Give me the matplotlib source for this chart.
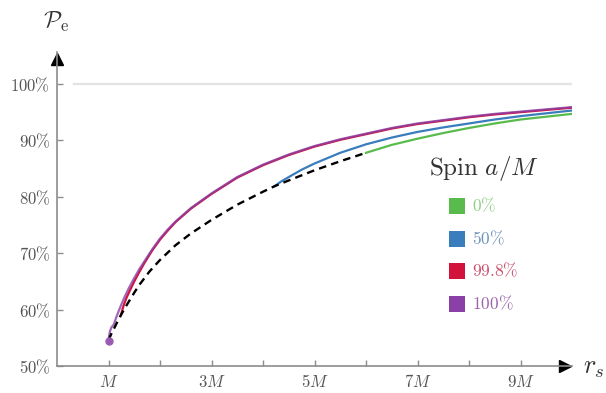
import matplotlib
matplotlib.use("Agg")
import matplotlib.pyplot as plt
from matplotlib.patches import Rectangle

plt.rcParams['mathtext.fontset'] = 'cm'
plt.rcParams['font.family'] = ['DejaVu Serif']

# efficiency along the ISCO (dashed) and for each spin value
r_isco = [1.0, 1.05, 1.1, 1.17, 1.24, 1.32, 1.4, 1.5, 1.6, 1.8, 2.0, 2.3, 2.6, 3.0, 3.5, 4.0, 4.23,
          4.5, 5.0, 5.5, 6.0]
p_isco = [54.6, 55.6, 56.5, 57.8, 59.0, 60.3, 61.5, 63.0, 64.4, 66.8, 68.8, 71.4, 73.5, 75.9, 78.6,
          80.9, 81.9, 82.9, 84.7, 86.3, 87.8]

r_a0 = [6.0, 6.25, 6.5, 7.0, 7.5, 8.0, 8.5, 9.0, 9.5, 10.0]
p_a0 = [87.8, 88.5, 89.2, 90.3, 91.3, 92.2, 93.0, 93.7, 94.2, 94.7]

r_a50 = [4.23, 4.35, 4.5, 4.75, 5.0, 5.5, 6.0, 6.5, 7.0, 7.5, 8.0, 8.5, 9.0, 9.5, 10.0]
p_a50 = [81.9, 82.7, 83.5, 84.8, 85.9, 87.8, 89.3, 90.5, 91.5, 92.3, 93.0, 93.7, 94.3, 94.8, 95.3]

r_a998 = [1.24, 1.27, 1.3, 1.35, 1.4, 1.5, 1.6, 1.7, 1.85, 2.0, 2.15, 2.3, 2.6, 3.0, 3.5, 4.0, 4.5,
          5.0, 5.5, 6.0, 6.5, 7.0, 7.5, 8.0, 8.5, 9.0, 9.5, 10.0]
p_a998 = [59.0, 60.0, 60.9, 62.1, 63.1, 65.0, 66.7, 68.3, 70.5, 72.4, 74.0, 75.5, 77.9, 80.5, 83.4,
          85.6, 87.4, 88.9, 90.1, 91.1, 92.1, 92.9, 93.5, 94.1, 94.6, 95.0, 95.4, 95.8]

r_a100 = [1.0, 1.01, 1.03, 1.06, 1.1, 1.15, 1.2, 1.3, 1.4, 1.5, 1.6, 1.7, 1.85, 2.0, 2.15, 2.3, 2.6,
          3.0, 3.5, 4.0, 4.5, 5.0, 5.5, 6.0, 6.5, 7.0, 7.5, 8.0, 8.5, 9.0, 9.5, 10.0]
p_a100 = [54.5, 55.3, 56.2, 56.9, 57.3, 58.6, 59.8, 62.0, 63.9, 65.6, 67.2, 68.6, 70.7, 72.6,
          74.2, 75.6, 78.0, 80.6, 83.5, 85.7, 87.5, 89.0, 90.2, 91.2, 92.2, 93.0, 93.6, 94.2, 94.7,
          95.1, 95.5, 95.9]

spin_labels = ['0%', '50%', '99.8%', '100%']
spin_colors = ['#58bb4c', '#3a7dbd', '#d3123c', '#8a40a6']
label_colors = ['#8fcf86', '#6c93bb', '#c8506e', '#9a62ac']

y_ticks = [50, 60, 70, 80, 90, 100]
x_ticks = [1, 3, 5, 7, 9]
x_tick_labels = ['$M$', '$3M$', '$5M$', '$7M$', '$9M$']
x_minor = [2, 4, 6, 8]

fig = plt.figure(figsize=(6.06, 3.93), dpi=100)
ax = fig.add_axes([57 / 606, 27 / 393, 515 / 606, 314 / 393])
ax.set_xlim(0, 10)
ax.set_ylim(50, 105.67)

axis_gray = '#8c8c8c'
for side in ['top', 'right']:
    ax.spines[side].set_visible(False)
for side in ['left', 'bottom']:
    ax.spines[side].set_color(axis_gray)
    ax.spines[side].set_linewidth(1.2)

# arrow heads on the axes
ax.plot(0.986, 0, marker='>', ms=9, color='black', transform=ax.transAxes, clip_on=False)
ax.plot(0, 0.978, marker='^', ms=9, color='black', transform=ax.transAxes, clip_on=False)

# 100% reference line
ax.plot([0.33, 10], [100, 100], color='#e3e3e3', lw=1.6)

lw = 1.6
ax.plot(r_a0, p_a0, color=spin_colors[0], lw=lw)
ax.plot(r_a50, p_a50, color=spin_colors[1], lw=lw)
ax.plot(r_a998, p_a998, color=spin_colors[2], lw=lw)
ax.plot(r_a100, p_a100, color=spin_colors[3], lw=lw, alpha=0.8)
ax.plot(r_isco, p_isco, color='black', lw=1.7, dashes=(3.2, 2.2))
ax.plot(r_a100[0], p_a100[0], 'o', ms=5, color='#9a5ab0', zorder=5)

ax.set_yticks(y_ticks)
ax.set_yticklabels([r'$\mathrm{%d\%%}$' % v for v in y_ticks])
ax.set_xticks(x_ticks)
ax.set_xticklabels(x_tick_labels)
ax.set_xticks(x_minor, minor=True)
ax.tick_params(which='both', direction='in', length=4, width=1, color=axis_gray,
               labelsize=12, labelcolor='#555555')
ax.tick_params(axis='y', pad=5)
ax.tick_params(axis='x', pad=6)

fig.text(56 / 606, 1 - 22 / 393, r'$\mathcal{P}_\mathrm{e}$', fontsize=17,
         ha='center', va='center', color='#333333')
fig.text(594 / 606, 1 - 368 / 393, r'$r_s$', fontsize=19,
         ha='center', va='center', color='#333333')

# spin legend
fig.text(484 / 606, 1 - 168 / 393, r'$\mathrm{Spin}\ a/M$', fontsize=18,
         ha='center', va='center', color='#333333')
sq = 16
for i, (lab, c, tc) in enumerate(zip(spin_labels, spin_colors, label_colors)):
    top = 198 + i * 32.7
    fig.add_artist(Rectangle((449 / 606, 1 - (top + sq) / 393), sq / 606, sq / 393,
                             transform=fig.transFigure, facecolor=c, edgecolor='none'))
    fig.text(472 / 606, 1 - (top + sq / 2) / 393, r'$\mathrm{%s}$' % lab.replace('%', r'\%'),
             fontsize=12.5, ha='left', va='center', color=tc)

fig.savefig('out.png', dpi=100)
